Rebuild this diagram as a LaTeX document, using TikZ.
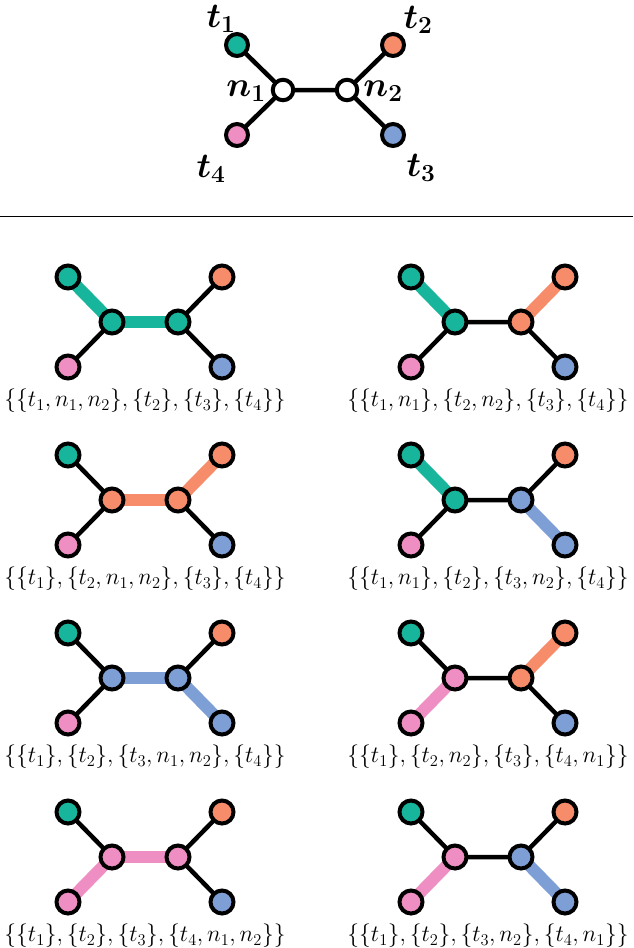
\documentclass[tikz,border=0pt]{standalone}
\usepackage{fix-cm}
\usepackage{bm}
\pgfdeclarelayer{bg}
\pgfsetlayers{bg,main}
\definecolor{cteal}{HTML}{17B59C}
\definecolor{corange}{HTML}{F68C6A}
\definecolor{cblue}{HTML}{7E9ED6}
\definecolor{cpink}{HTML}{EE8EC2}
\tikzset{
  dot/.style = {circle,draw,line width=4pt,inner sep=0pt,minimum size=23pt},
  bigdot/.style = {dot,minimum size=22pt},
  hub/.style = {dot,fill=white,minimum size=20.5pt},
  edge/.style = {line width=4.5pt},
  hl/.style = {line width=12pt},
  tag/.style = {font=\fontsize{35}{35}\selectfont,inner sep=0pt},
  part/.style = {font=\fontsize{23.5}{26}\selectfont,inner sep=0pt}
}
% #1 prefix, #2 centre, #3 colour n1, #4 colour n2, #5 highlighted edges, #6 label
\newcommand{\parttree}[6]{%
  \begin{scope}[shift={#2}]
    \node[dot,fill=cteal]   (#1t1) at (-77,-45) {};
    \node[dot,fill=corange] (#1t2) at (77,-45) {};
    \node[dot,fill=cblue]   (#1t3) at (77,45) {};
    \node[dot,fill=cpink]   (#1t4) at (-77,45) {};
    \node[dot,fill=#3] (#1n1) at (-33,0) {};
    \node[dot,fill=#4] (#1n2) at (33,0) {};
    \node[part] (#1lab) at (0,79) {$#6$};
    \begin{pgfonlayer}{bg}
      \draw[edge] (#1t1.center) -- (#1n1.center) -- (#1t4.center)
        (#1n1.center) -- (#1n2.center)
        (#1t2.center) -- (#1n2.center) -- (#1t3.center);
      \foreach \u/\v/\c in {#5}
        \draw[hl,\c] (#1\u.center) -- (#1\v.center);
    \end{pgfonlayer}
  \end{scope}}
\begin{document}
\begin{tikzpicture}[x=1pt,y=-1pt]
  \useasboundingbox (0,0) rectangle (633,948);
  % the tree
  \node[bigdot,fill=cteal]   (t1) at (237,45) {};
  \node[bigdot,fill=corange] (t2) at (393,45) {};
  \node[bigdot,fill=cblue]   (t3) at (393,135) {};
  \node[bigdot,fill=cpink]   (t4) at (237,135) {};
  \node[hub] (n1) at (283,90) {};
  \node[hub] (n2) at (347,90) {};
  \begin{pgfonlayer}{bg}
    \draw[edge] (t1.center) -- (n1.center) -- (t4.center)
      (n1.center) -- (n2.center)
      (t2.center) -- (n2.center) -- (t3.center);
  \end{pgfonlayer}
  \node[tag] (lt1) at (221,19) {$\bm{t_1}$};
  \node[tag] (lt2) at (418,20) {$\bm{t_2}$};
  \node[tag] (lt3) at (421,168) {$\bm{t_3}$};
  \node[tag] (lt4) at (211,169) {$\bm{t_4}$};
  \node[tag] (ln1) at (246,91) {$\bm{n_1}$};
  \node[tag] (ln2) at (383,91) {$\bm{n_2}$};
  \draw[line width=1pt] (0,216) -- (633,216);
  % the partitions
  \parttree{a}{(145,322)}{cteal}{cteal}{t1/n1/cteal,n1/n2/cteal}
    {\{\{t_1,n_1,n_2\},\{t_2\},\{t_3\},\{t_4\}\}}
  \parttree{b}{(488,322)}{cteal}{corange}{t1/n1/cteal,n2/t2/corange}
    {\{\{t_1,n_1\},\{t_2,n_2\},\{t_3\},\{t_4\}\}}
  \parttree{c}{(145,500)}{corange}{corange}{n1/n2/corange,n2/t2/corange}
    {\{\{t_1\},\{t_2,n_1,n_2\},\{t_3\},\{t_4\}\}}
  \parttree{d}{(488,500)}{cteal}{cblue}{t1/n1/cteal,n2/t3/cblue}
    {\{\{t_1,n_1\},\{t_2\},\{t_3,n_2\},\{t_4\}\}}
  \parttree{e}{(145,678)}{cblue}{cblue}{n1/n2/cblue,n2/t3/cblue}
    {\{\{t_1\},\{t_2\},\{t_3,n_1,n_2\},\{t_4\}\}}
  \parttree{f}{(488,678)}{cpink}{corange}{t4/n1/cpink,n2/t2/corange}
    {\{\{t_1\},\{t_2,n_2\},\{t_3\},\{t_4,n_1\}\}}
  \parttree{g}{(145,857)}{cpink}{cpink}{t4/n1/cpink,n1/n2/cpink}
    {\{\{t_1\},\{t_2\},\{t_3\},\{t_4,n_1,n_2\}\}}
  \parttree{h}{(488,857)}{cpink}{cblue}{t4/n1/cpink,n2/t3/cblue}
    {\{\{t_1\},\{t_2\},\{t_3,n_2\},\{t_4,n_1\}\}}
\end{tikzpicture}
\end{document}
